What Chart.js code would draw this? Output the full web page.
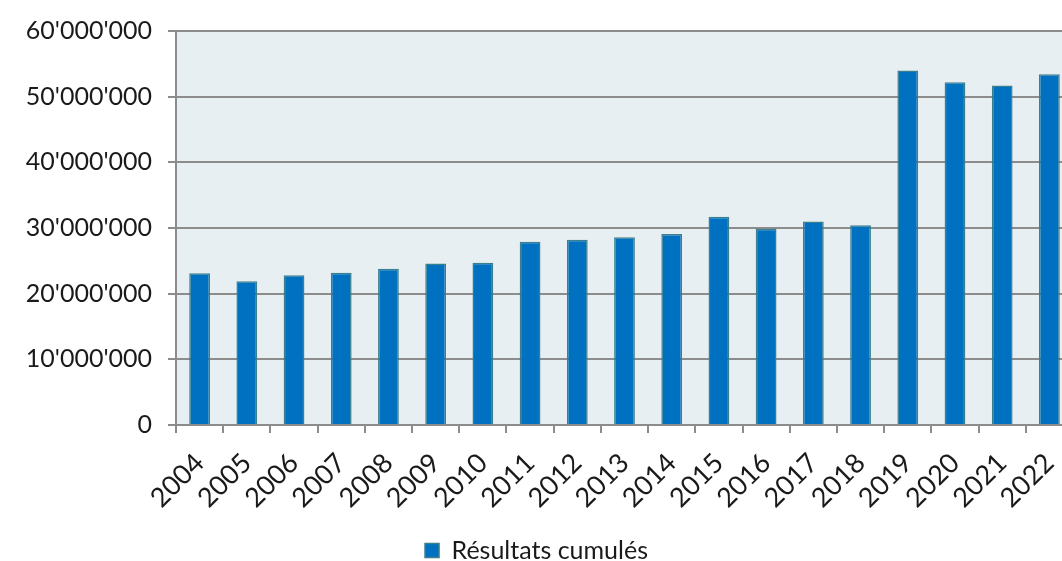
<!DOCTYPE html>
<html>
<head>
<meta charset="utf-8">
<script src="https://cdn.jsdelivr.net/npm/chart.js@4.4.0/dist/chart.umd.min.js"></script>
<style>
  html, body { margin: 0; padding: 0; background: #fff; overflow: hidden; }
  #wrap { width: 1100px; height: 561px; }
</style>
</head>
<body>
<div id="wrap"><canvas id="chart" width="1100" height="561"></canvas></div>
<script>
// données
const years = ["2004", "2005", "2006", "2007", "2008", "2009", "2010", "2011", "2012", "2013",
               "2014", "2015", "2016", "2017", "2018", "2019", "2020", "2021", "2022"];
const resultatsCumules = [23100000, 21900000, 22800000, 23200000, 23800000, 24600000, 24700000,
                          27900000, 28200000, 28600000, 29100000, 31700000, 29900000, 31000000,
                          30400000, 54000000, 52200000, 51700000, 53400000];
const seriesLabel = "Résultats cumulés";

const FONT = "Lato, 'Noto Sans', sans-serif";
const GRID = "#8c8c8c";

// séparateur des milliers : 60'000'000
function formatApos(v) {
  return String(v).replace(/\B(?=(\d{3})+(?!\d))/g, "'");
}

// fond de la zone du graphique
const plotBg = {
  id: "plotBg",
  beforeDraw(chart) {
    const { ctx, chartArea: a } = chart;
    ctx.save();
    ctx.fillStyle = "#e8eff3";
    ctx.fillRect(a.left, a.top, a.right - a.left, a.bottom - a.top);
    ctx.restore();
  }
};

const ctx = document.getElementById("chart").getContext("2d");
new Chart(ctx, {
  type: "bar",
  data: {
    labels: years,
    datasets: [{
      label: seriesLabel,
      data: resultatsCumules,
      backgroundColor: "#0070c0",
      borderColor: "#3a7f8e",
      borderWidth: 1.5,
      categoryPercentage: 1,
      barPercentage: 0.44
    }]
  },
  options: {
    responsive: false,
    animation: false,
    layout: { padding: { top: 18, right: 27, left: 0, bottom: -12 } },
    plugins: {
      tooltip: { enabled: false },
      legend: {
        position: "bottom",
        labels: {
          font: { family: FONT, size: 25 },
          color: "#1a1a1a",
          boxWidth: 14,
          boxHeight: 14,
          padding: 0
        }
      }
    },
    scales: {
      x: {
        grid: {
          offset: true,
          drawOnChartArea: false,
          color: GRID,
          lineWidth: 2,
          tickLength: 8
        },
        border: { color: GRID, width: 2 },
        ticks: {
          font: { family: FONT, size: 27 },
          color: "#1a1a1a",
          minRotation: 45,
          maxRotation: 45,
          autoSkip: false,
          padding: 14
        },
        afterFit(scale) { scale.height = 113; }
      },
      y: {
        min: 0,
        max: 60000000,
        ticks: {
          stepSize: 10000000,
          font: { family: FONT, size: 25 },
          color: "#1a1a1a",
          padding: 16,
          callback: (v) => formatApos(v)
        },
        grid: {
          color: GRID,
          lineWidth: 2,
          tickLength: 8
        },
        border: { color: GRID, width: 2 },
        afterFit(scale) { scale.width = 176; }
      }
    }
  },
  plugins: [plotBg]
});
</script>
</body>
</html>
